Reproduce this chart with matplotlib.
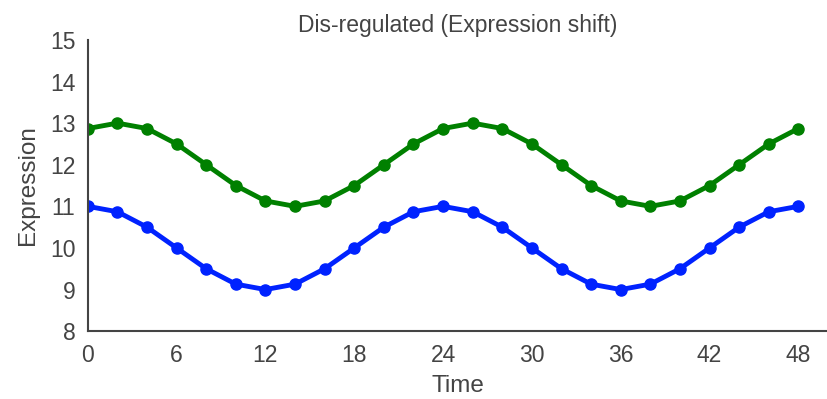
import numpy as np
import matplotlib.pyplot as plt
import seaborn as sns

sns.set_style('white')
plt.rcParams['font.family'] = ['Liberation Sans', 'DejaVu Sans']

time_h = [0, 2, 4, 6, 8, 10, 12, 14, 16, 18, 20, 22, 24,
          26, 28, 30, 32, 34, 36, 38, 40, 42, 44, 46, 48]
blue_expr = [11.0, 10.87, 10.5, 10.0, 9.5, 9.13, 9.0, 9.13, 9.5, 10.0, 10.5, 10.87, 11.0,
             10.87, 10.5, 10.0, 9.5, 9.13, 9.0, 9.13, 9.5, 10.0, 10.5, 10.87, 11.0]
green_expr = [12.87, 13.0, 12.87, 12.5, 12.0, 11.5, 11.13, 11.0, 11.13, 11.5, 12.0, 12.5, 12.87,
              13.0, 12.87, 12.5, 12.0, 11.5, 11.13, 11.0, 11.13, 11.5, 12.0, 12.5, 12.87]
xticks = [0, 6, 12, 18, 24, 30, 36, 42, 48]

fig = plt.figure(figsize=(8.28, 3.99), dpi=100)
ax = fig.add_axes([0.106, 0.17, 0.894, 0.73])
ax.plot(time_h, green_expr, '-o', color='#008000', lw=3.5, ms=8)
ax.plot(time_h, blue_expr, '-o', color='#0022ff', lw=3.5, ms=8)

ax.set_xlim(0, 50)
ax.set_ylim(8, 15)
ax.set_xticks(xticks)
ax.set_yticks(range(8, 16))
ax.tick_params(labelsize=16.5, colors='#444444', length=0, pad=9)
ax.set_xlabel('Time', fontsize=17.5, color='#444444', labelpad=6)
ax.set_ylabel('Expression', fontsize=17.5, color='#444444', labelpad=8)
ax.set_title('Dis-regulated (Expression shift)', fontsize=16.5, color='#444444', pad=6)
for s in ['top', 'right']:
    ax.spines[s].set_visible(False)
for s in ['left', 'bottom']:
    ax.spines[s].set_color('#444444')
    ax.spines[s].set_linewidth(1.5)

fig.savefig('out.png', dpi=100)
